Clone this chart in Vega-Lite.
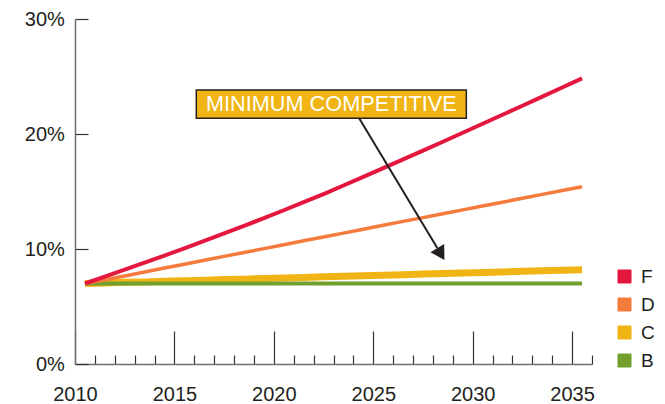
{
  "$schema": "https://vega.github.io/schema/vega-lite/v6.json",
  "autosize": {"type": "none"},
  "padding": {"left": 75, "top": 19, "right": 73, "bottom": 40},
  "width": 517,
  "height": 345,
  "config": {
    "view": {"stroke": null},
    "font": "Liberation Sans",
    "axis": {"grid": false, "labelFont": "Liberation Sans", "labelColor": "#231F20", "domainColor": "#6D6E71", "domainWidth": 1.5, "tickColor": "#333333", "tickWidth": 1.2, "title": null}
  },
  "datasets": {
    "series": [
      {"year": 2010.5, "series": "C", "value": 7.0},
      {"year": 2011.5, "series": "C", "value": 7.05},
      {"year": 2012.5, "series": "C", "value": 7.1},
      {"year": 2013.5, "series": "C", "value": 7.14},
      {"year": 2014.5, "series": "C", "value": 7.19},
      {"year": 2015.5, "series": "C", "value": 7.24},
      {"year": 2016.5, "series": "C", "value": 7.29},
      {"year": 2017.5, "series": "C", "value": 7.34},
      {"year": 2018.5, "series": "C", "value": 7.38},
      {"year": 2019.5, "series": "C", "value": 7.43},
      {"year": 2020.5, "series": "C", "value": 7.48},
      {"year": 2021.5, "series": "C", "value": 7.53},
      {"year": 2022.5, "series": "C", "value": 7.58},
      {"year": 2023.5, "series": "C", "value": 7.62},
      {"year": 2024.5, "series": "C", "value": 7.67},
      {"year": 2025.5, "series": "C", "value": 7.72},
      {"year": 2026.5, "series": "C", "value": 7.77},
      {"year": 2027.5, "series": "C", "value": 7.82},
      {"year": 2028.5, "series": "C", "value": 7.86},
      {"year": 2029.5, "series": "C", "value": 7.91},
      {"year": 2030.5, "series": "C", "value": 7.96},
      {"year": 2031.5, "series": "C", "value": 8.01},
      {"year": 2032.5, "series": "C", "value": 8.06},
      {"year": 2033.5, "series": "C", "value": 8.1},
      {"year": 2034.5, "series": "C", "value": 8.15},
      {"year": 2035.5, "series": "C", "value": 8.2},
      {"year": 2010.5, "series": "B", "value": 7.0},
      {"year": 2011.5, "series": "B", "value": 7.0},
      {"year": 2012.5, "series": "B", "value": 7.0},
      {"year": 2013.5, "series": "B", "value": 7.0},
      {"year": 2014.5, "series": "B", "value": 7.0},
      {"year": 2015.5, "series": "B", "value": 7.0},
      {"year": 2016.5, "series": "B", "value": 7.0},
      {"year": 2017.5, "series": "B", "value": 7.0},
      {"year": 2018.5, "series": "B", "value": 7.0},
      {"year": 2019.5, "series": "B", "value": 7.0},
      {"year": 2020.5, "series": "B", "value": 7.0},
      {"year": 2021.5, "series": "B", "value": 7.0},
      {"year": 2022.5, "series": "B", "value": 7.0},
      {"year": 2023.5, "series": "B", "value": 7.0},
      {"year": 2024.5, "series": "B", "value": 7.0},
      {"year": 2025.5, "series": "B", "value": 7.0},
      {"year": 2026.5, "series": "B", "value": 7.0},
      {"year": 2027.5, "series": "B", "value": 7.0},
      {"year": 2028.5, "series": "B", "value": 7.0},
      {"year": 2029.5, "series": "B", "value": 7.0},
      {"year": 2030.5, "series": "B", "value": 7.0},
      {"year": 2031.5, "series": "B", "value": 7.0},
      {"year": 2032.5, "series": "B", "value": 7.0},
      {"year": 2033.5, "series": "B", "value": 7.0},
      {"year": 2034.5, "series": "B", "value": 7.0},
      {"year": 2035.5, "series": "B", "value": 7.0},
      {"year": 2010.5, "series": "D", "value": 7.0},
      {"year": 2011.5, "series": "D", "value": 7.33},
      {"year": 2012.5, "series": "D", "value": 7.66},
      {"year": 2013.5, "series": "D", "value": 8.0},
      {"year": 2014.5, "series": "D", "value": 8.34},
      {"year": 2015.5, "series": "D", "value": 8.68},
      {"year": 2016.5, "series": "D", "value": 9.02},
      {"year": 2017.5, "series": "D", "value": 9.36},
      {"year": 2018.5, "series": "D", "value": 9.7},
      {"year": 2019.5, "series": "D", "value": 10.03},
      {"year": 2020.5, "series": "D", "value": 10.37},
      {"year": 2021.5, "series": "D", "value": 10.71},
      {"year": 2022.5, "series": "D", "value": 11.04},
      {"year": 2023.5, "series": "D", "value": 11.38},
      {"year": 2024.5, "series": "D", "value": 11.72},
      {"year": 2025.5, "series": "D", "value": 12.06},
      {"year": 2026.5, "series": "D", "value": 12.4},
      {"year": 2027.5, "series": "D", "value": 12.73},
      {"year": 2028.5, "series": "D", "value": 13.07},
      {"year": 2029.5, "series": "D", "value": 13.4},
      {"year": 2030.5, "series": "D", "value": 13.74},
      {"year": 2031.5, "series": "D", "value": 14.07},
      {"year": 2032.5, "series": "D", "value": 14.41},
      {"year": 2033.5, "series": "D", "value": 14.75},
      {"year": 2034.5, "series": "D", "value": 15.08},
      {"year": 2035.5, "series": "D", "value": 15.42},
      {"year": 2010.5, "series": "F", "value": 7.0},
      {"year": 2011.5, "series": "F", "value": 7.6},
      {"year": 2012.5, "series": "F", "value": 8.2},
      {"year": 2013.5, "series": "F", "value": 8.81},
      {"year": 2014.5, "series": "F", "value": 9.43},
      {"year": 2015.5, "series": "F", "value": 10.06},
      {"year": 2016.5, "series": "F", "value": 10.7},
      {"year": 2017.5, "series": "F", "value": 11.35},
      {"year": 2018.5, "series": "F", "value": 12.01},
      {"year": 2019.5, "series": "F", "value": 12.68},
      {"year": 2020.5, "series": "F", "value": 13.37},
      {"year": 2021.5, "series": "F", "value": 14.07},
      {"year": 2022.5, "series": "F", "value": 14.78},
      {"year": 2023.5, "series": "F", "value": 15.52},
      {"year": 2024.5, "series": "F", "value": 16.27},
      {"year": 2025.5, "series": "F", "value": 17.03},
      {"year": 2026.5, "series": "F", "value": 17.79},
      {"year": 2027.5, "series": "F", "value": 18.56},
      {"year": 2028.5, "series": "F", "value": 19.33},
      {"year": 2029.5, "series": "F", "value": 20.11},
      {"year": 2030.5, "series": "F", "value": 20.89},
      {"year": 2031.5, "series": "F", "value": 21.67},
      {"year": 2032.5, "series": "F", "value": 22.46},
      {"year": 2033.5, "series": "F", "value": 23.25},
      {"year": 2034.5, "series": "F", "value": 24.04},
      {"year": 2035.5, "series": "F", "value": 24.84}
    ],
    "note": [
      {"label": "MINIMUM COMPETITIVE", "boxStart": 2016.1, "boxEnd": 2029.68, "boxTop": 23.83, "boxBottom": 21.37, "textYear": 2022.89, "textValue": 22.6, "arrowStartYear": 2024.29, "arrowStartValue": 21.37, "arrowEndYear": 2028.22, "arrowEndValue": 10.08, "headYear": 2028.4, "headValue": 9.56}
    ]
  },
  "layer": [
    {
      "data": {"name": "series"},
      "encoding": {
        "x": {
          "field": "year", "type": "quantitative",
          "scale": {"domain": [2010, 2036], "nice": false, "zero": false},
          "axis": {
            "values": [2010, 2011, 2012, 2013, 2014, 2015, 2016, 2017, 2018, 2019, 2020, 2021, 2022, 2023, 2024, 2025, 2026, 2027, 2028, 2029, 2030, 2031, 2032, 2033, 2034, 2035, 2036],
            "tickCount": 40,
            "format": "d",
            "labelExpr": "datum.value % 5 === 0 ? datum.label : ''",
            "tickSize": {"condition": {"test": "datum.value % 5 === 0", "value": -33}, "value": -9},
            "labelFontSize": 20,
            "labelPadding": 53,
            "labelFlush": false,
            "labelOverlap": false,
            "labelBaseline": "top"
          }
        },
        "y": {
          "field": "value", "type": "quantitative",
          "scale": {"domain": [0, 30], "nice": false},
          "axis": {
            "values": [0, 10, 20, 30],
            "labelExpr": "datum.value + '%'",
            "tickSize": -13,
            "labelFontSize": 20,
            "labelPadding": 23.7
          }
        },
        "color": {
          "field": "series", "type": "nominal",
          "scale": {"domain": ["F", "D", "C", "B"], "range": ["#E4173E", "#F47B3B", "#F0B415", "#72A02E"]},
          "legend": {
            "title": null,
            "orient": "none",
            "legendX": 540,
            "legendY": 248,
            "padding": 0,
            "symbolType": "square",
            "symbolSize": 169,
            "symbolStrokeWidth": 1,
            "symbolStrokeColor": "#444444",
            "labelFont": "Liberation Sans",
            "labelFontSize": 19,
            "labelColor": "#231F20",
            "labelOffset": 7,
            "rowPadding": 8,
            "encode": {
              "symbols": {"update": {"fill": {"scale": "color", "field": "value"}, "stroke": {"value": "#444444"}, "strokeWidth": {"value": 1}, "opacity": {"value": 1}}}
            }
          }
        }
      },
      "layer": [
        {"transform": [{"filter": "datum.series === 'C'"}], "mark": {"type": "line", "strokeWidth": 7, "strokeCap": "butt"}},
        {"transform": [{"filter": "datum.series === 'B'"}], "mark": {"type": "line", "strokeWidth": 4, "strokeCap": "butt"}},
        {"transform": [{"filter": "datum.series === 'D'"}], "mark": {"type": "line", "strokeWidth": 3.5, "strokeCap": "butt"}},
        {"transform": [{"filter": "datum.series === 'F'"}], "mark": {"type": "line", "strokeWidth": 4, "strokeCap": "butt"}}
      ]
    },
    {
      "data": {"name": "note"},
      "mark": {"type": "rect", "fill": "#F0B415", "stroke": "#231F20", "strokeWidth": 1.5},
      "encoding": {
        "x": {"field": "boxStart", "type": "quantitative"},
        "x2": {"field": "boxEnd"},
        "y": {"field": "boxTop", "type": "quantitative"},
        "y2": {"field": "boxBottom"}
      }
    },
    {
      "data": {"name": "note"},
      "mark": {"type": "text", "color": "#FFFFFF", "font": "Liberation Sans", "fontSize": 21.7, "align": "center", "baseline": "middle"},
      "encoding": {
        "x": {"field": "textYear", "type": "quantitative"},
        "y": {"field": "textValue", "type": "quantitative"},
        "text": {"field": "label"}
      }
    },
    {
      "data": {"name": "note"},
      "mark": {"type": "rule", "color": "#231F20", "strokeWidth": 2},
      "encoding": {
        "x": {"field": "arrowStartYear", "type": "quantitative"},
        "x2": {"field": "arrowEndYear"},
        "y": {"field": "arrowStartValue", "type": "quantitative"},
        "y2": {"field": "arrowEndValue"}
      }
    },
    {
      "data": {"name": "note"},
      "mark": {"type": "point", "shape": "triangle-down", "filled": true, "fill": "#231F20", "stroke": null, "opacity": 1, "size": 256, "angle": 329},
      "encoding": {
        "x": {"field": "headYear", "type": "quantitative"},
        "y": {"field": "headValue", "type": "quantitative"}
      }
    }
  ]
}
